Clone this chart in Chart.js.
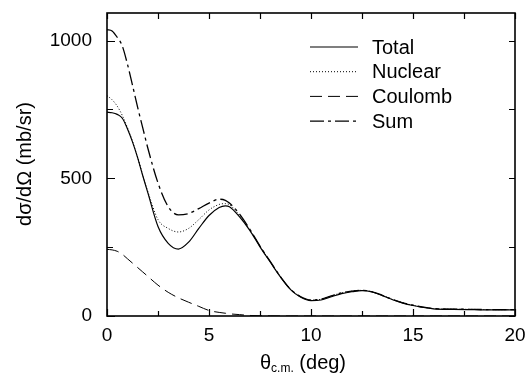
<!DOCTYPE html>
<html lang="en">

<head>
    <meta charset="UTF-8">
    <title>Cross section</title>
    <script src="https://cdn.jsdelivr.net/npm/chart.js"></script>
    <style>
        body { margin: 0; background: #fff; }
        #box { width: 527px; height: 373px; }
    </style>
</head>

<body>
    <div id="box">
        <canvas id="grafico" width="527" height="373"></canvas>
    </div>

<script>
    // angulos (graus, c.m.)
    const theta = [0, 0.25, 0.5, 0.75, 1, 1.25, 1.5, 1.75, 2, 2.5, 3, 3.5, 4, 4.5, 5, 5.5, 5.8, 6, 6.5, 7,
        7.5, 8, 8.5, 9, 9.5, 10, 10.5, 11, 11.5, 12, 12.5, 13, 13.5, 14, 14.5, 15, 15.5, 16, 17, 18, 19, 20];

    const total = [740, 738, 732, 718, 680, 632, 575, 510, 448, 325, 264, 243, 268, 318, 365, 394, 400, 397, 360, 311,
        251, 196, 142, 96, 68, 56, 58, 70, 81, 88, 92, 87, 74, 59, 47, 38, 31, 26, 24, 23, 22, 22];

    const nuclear = [800, 785, 762, 728, 684, 634, 577, 512, 452, 350, 318, 305, 318, 350, 385, 405, 408, 404, 365, 313,
        253, 197, 143, 97, 70, 58, 61, 73, 84, 90, 93, 88, 75, 60, 48, 39, 32, 27, 25, 24, 23, 23];

    const coulomb = [242, 240, 235, 224, 208, 192, 176, 160, 144, 112, 86, 66, 50, 35, 20, 13, 10, 8, 5, 2,
        1, 0.5, 0, 0, 0, 0, 0, 0, 0, 0, 0, 0, 0, 0, 0, 0, 0, 0, 0, 0, 0, 0];

    const soma = [1040, 1035, 1012, 980, 915, 838, 758, 684, 610, 483, 397, 367, 372, 390, 410, 424, 420, 410, 370, 315,
        254, 198, 143, 97, 70, 58, 61, 73, 84, 90, 93, 88, 75, 60, 48, 39, 32, 27, 25, 24, 23, 23];

    const nomes = ['Total', 'Nuclear', 'Coulomb', 'Sum'];

    const fonte = "'Liberation Sans', Arial, Helvetica, sans-serif";
    Chart.defaults.font.family = fonte;
    Chart.defaults.font.size = 19;
    Chart.defaults.color = '#000';

    function pontos(valores) {
        return theta.map((t, i) => ({ x: t, y: valores[i] }));
    }

    function serie(label, valores, dash, largura) {
        return {
            label,
            data: pontos(valores),
            borderColor: '#000',
            borderWidth: largura,
            borderDash: dash,
            pointRadius: 0,
            fill: false,
            cubicInterpolationMode: 'monotone'
        };
    }

    // moldura, ticks para dentro, legenda e titulos dos eixos
    const extras = {
        id: 'extras',
        afterDraw(chart) {
            const ctx = chart.ctx;
            const area = chart.chartArea;
            const sx = chart.scales.x;
            const sy = chart.scales.y;
            ctx.save();
            ctx.strokeStyle = '#000';
            ctx.lineWidth = 1.2;
            ctx.setLineDash([]);

            sx.ticks.forEach(t => {
                const px = Math.round(sx.getPixelForValue(t.value)) + 0.5;
                const len = t.value % 5 === 0 ? 7 : 5;
                ctx.beginPath();
                ctx.moveTo(px, area.bottom); ctx.lineTo(px, area.bottom - len);
                ctx.moveTo(px, area.top); ctx.lineTo(px, area.top + 6);
                ctx.stroke();
            });
            sy.ticks.forEach(t => {
                if (t.value % 250 !== 0) return;
                const py = Math.round(sy.getPixelForValue(t.value)) + 0.5;
                const len = t.value % 500 === 0 ? 8 : 6;
                ctx.beginPath();
                ctx.moveTo(area.left, py); ctx.lineTo(area.left + len, py);
                ctx.moveTo(area.right, py); ctx.lineTo(area.right - 6, py);
                ctx.stroke();
            });

            ctx.lineWidth = 1.6;
            ctx.strokeRect(area.left, area.top, area.right - area.left, area.bottom - area.top);

            // legenda
            const lx = 310;
            chart.data.datasets.forEach((ds, i) => {
                const y = 47 + i * 24.7;
                ctx.lineWidth = ds.borderWidth;
                ctx.setLineDash(ds.borderDash || []);
                ctx.beginPath();
                ctx.moveTo(lx, y); ctx.lineTo(lx + 48, y);
                ctx.stroke();
                ctx.setLineDash([]);
                ctx.fillStyle = '#000';
                ctx.font = '20px ' + fonte;
                ctx.textBaseline = 'middle';
                ctx.textAlign = 'left';
                ctx.fillText(ds.label, lx + 62, y + 1);
            });

            // titulo eixo x
            ctx.textBaseline = 'alphabetic';
            ctx.textAlign = 'left';
            let x = 260;
            ctx.font = '20px ' + fonte;
            ctx.fillText('θ', x, 369);
            x += ctx.measureText('θ').width;
            ctx.font = '12px ' + fonte;
            ctx.fillText('c.m.', x, 372);
            x += ctx.measureText('c.m.').width;
            ctx.font = '20px ' + fonte;
            ctx.fillText(' (deg)', x, 369);

            // titulo eixo y
            ctx.translate(25, 164);
            ctx.rotate(-Math.PI / 2);
            ctx.textAlign = 'center';
            ctx.textBaseline = 'middle';
            ctx.fillText('dσ/dΩ (mb/sr)', 0, 0);
            ctx.restore();
        }
    };

    const ctx = document.getElementById('grafico').getContext('2d');
    new Chart(ctx, {
        type: 'line',
        data: {
            datasets: [
                serie(nomes[0], total, [], 1.2),
                serie(nomes[1], nuclear, [1, 2], 1),
                serie(nomes[2], coulomb, [12, 6], 1),
                serie(nomes[3], soma, [14, 4, 3, 4], 1.3)
            ]
        },
        options: {
            responsive: false,
            animation: false,
            layout: { padding: { left: 0, top: 13, right: 12, bottom: 0 } },
            plugins: {
                legend: { display: false },
                tooltip: { enabled: false }
            },
            scales: {
                x: {
                    type: 'linear',
                    min: 0,
                    max: 20,
                    grid: { display: false, drawTicks: false },
                    border: { display: false },
                    ticks: {
                        stepSize: 2.5,
                        padding: 8,
                        maxRotation: 0,
                        callback: v => (v % 5 === 0 ? v : '')
                    },
                    afterFit: s => {
                        s.height = 57;
                        s.paddingLeft = 0;
                        s.paddingRight = 0;
                    }
                },
                y: {
                    min: 0,
                    max: 1100,
                    grid: { display: false, drawTicks: false },
                    border: { display: false },
                    ticks: {
                        stepSize: 250,
                        padding: 15,
                        callback: v => (v % 500 === 0 ? v : '')
                    },
                    afterFit: s => {
                        s.width = 107;
                        s.paddingTop = 0;
                        s.paddingBottom = 0;
                    }
                }
            }
        },
        plugins: [extras]
    });
</script>
</body>

</html>
